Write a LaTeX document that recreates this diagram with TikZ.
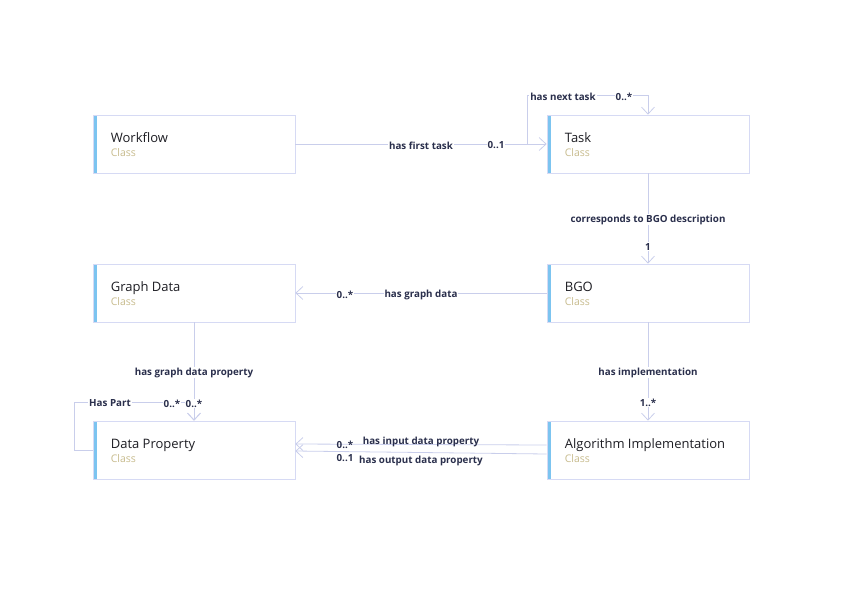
\documentclass[tikz,border=0pt]{standalone}
\usepackage{fontspec}
\setmainfont{Open Sans}
\usetikzlibrary{arrows.meta}
\definecolor{accent}{HTML}{7CC4F0}
\definecolor{boxline}{HTML}{D6DAF4}
\definecolor{classcol}{HTML}{C8BC8E}
\definecolor{titlecol}{HTML}{1E1E24}
\definecolor{labcol}{HTML}{2A2F4C}
\definecolor{conncol}{HTML}{C9CEEB}
\tikzset{
  classbox/.style={draw=boxline, line width=0.7pt, fill=white, rectangle,
    minimum width=202pt, minimum height=58pt, inner sep=0pt,
    path picture={\fill[accent] (path picture bounding box.north west) rectangle ([xshift=3.5pt]path picture bounding box.south west);}},
  classtext/.style={anchor=west, align=left, inner sep=0pt, text=titlecol,
    font=\fontsize{13}{15}\selectfont},
  conn/.style={draw=conncol, line width=0.8pt, -{Straight Barb[length=7pt,width=13pt,line width=0.8pt]}},
  lab/.style={text=labcol, font=\fontsize{9.8}{11}\selectfont\bfseries, fill=white, inner sep=1pt, yshift=-1.5pt},
  labnf/.style={text=labcol, font=\fontsize{9.8}{11}\selectfont\bfseries, inner sep=1pt, yshift=-1pt},
}
\newcommand{\classlabel}[1]{#1\\[-1pt]{\color{classcol}\fontsize{10.5}{12}\selectfont Class}}
\begin{document}
\begin{tikzpicture}[x=1pt,y=-1pt]
\useasboundingbox (0,0) rectangle (842,595);
% boxes
\node[classbox] (wf) at (194,144) {};
\node[classbox] (task) at (648,144) {};
\node[classbox] (gd) at (194,293) {};
\node[classbox] (bgo) at (648,293) {};
\node[classbox] (dp) at (194,450) {};
\node[classbox] (algo) at (648,450) {};
\node[classtext] (wft) at ([xshift=18pt,yshift=-1pt]wf.west) {\classlabel{Workflow}};
\node[classtext] (taskt) at ([xshift=18pt,yshift=-1pt]task.west) {\classlabel{Task}};
\node[classtext] (gdt) at ([xshift=18pt,yshift=-1pt]gd.west) {\classlabel{Graph Data}};
\node[classtext] (bgot) at ([xshift=18pt,yshift=-1pt]bgo.west) {\classlabel{BGO}};
\node[classtext] (dpt) at ([xshift=18pt,yshift=-1pt]dp.west) {\classlabel{Data Property}};
\node[classtext] (algot) at ([xshift=18pt,yshift=-1pt]algo.west) {\classlabel{Algorithm Implementation}};
% coordinates for bends
\coordinate (nt1) at (527,144);
\coordinate (nt2) at (648,95);
\coordinate (hp1) at (74,450);
\coordinate (hp2) at (74,402);
\coordinate (hp3) at (194,402);
% connectors
\draw[conn] (wf.east) -- (task.west);
\draw[conn] (nt1) |- (nt2) -- (task.north);
\draw[conn] (task.south) -- (bgo.north);
\draw[conn] (bgo.west) -- (gd.east);
\draw[conn] (gd.south) -- (dp.north);
\draw[conn] (dp.west) -- (hp1) -- (hp2) -- (hp3) -- (dp.north);
\draw[conn] (bgo.south) -- (algo.north);
\draw[conn] ([yshift=5pt]algo.west) -- ([yshift=6pt]dp.east);
\draw[conn] ([yshift=-4pt]algo.west) -- ([yshift=-1pt]dp.east);
% labels
\node[lab] (l1) at (421,144) {has first task};
\node[lab] (l1m) at (496,144) {0..1};
\node[lab] (l2) at (563,95) {has next task};
\node[lab] (l2m) at (624,95) {0..*};
\node[lab] (l3) at (648,218) {corresponds to BGO description};
\node[lab] (l3m) at (648,245) {1};
\node[lab] (l4) at (421,293) {has graph data};
\node[lab] (l4m) at (345,293) {0..*};
\node[lab] (l5) at (194,371) {has graph data property};
\node[lab] (l5m) at (194,402) {0..*};
\node[lab] (l6) at (110,402) {Has Part};
\node[lab] (l6m) at (172,402) {0..*};
\node[lab] (l7) at (648,371) {has implementation};
\node[lab] (l7m) at (648,401) {1..*};
\node[labnf] (l8) at (421,441) {has input data property};
\node[labnf] (l8m) at (345,444) {0..*};
\node[labnf] (l9) at (421,460) {has output data property};
\node[labnf] (l9m) at (345,457) {0..1};
\end{tikzpicture}
\end{document}
